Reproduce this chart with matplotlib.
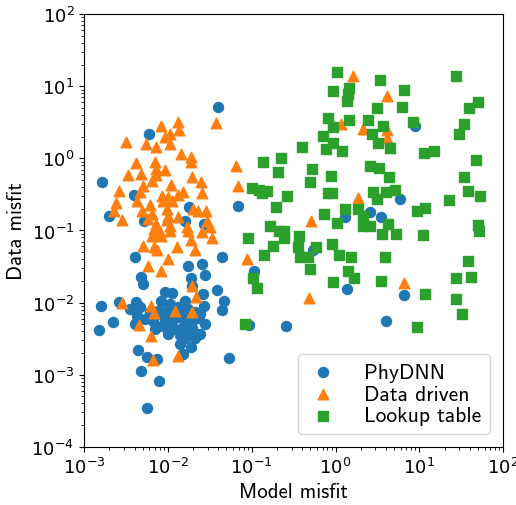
import numpy as np
import matplotlib
matplotlib.use("Agg")
import matplotlib.pyplot as plt

plt.rcParams['mathtext.fontset'] = 'cm'

# PhyDNN (model misfit, data misfit)
phydnn_x = [0.040, 0.0060, 0.00164, 0.0039, 0.0020, 0.0052, 0.016, 0.018, 0.027, 0.069,
            0.0041, 0.044, 0.0174, 0.0256, 0.028, 0.0048, 0.0051, 0.019, 0.0195, 0.039,
            0.0093, 0.0112, 0.026, 0.047, 0.0016, 0.0026, 0.0042, 0.0047, 0.0083, 0.016,
            0.027, 0.044, 0.0022, 0.0015, 0.0041, 0.0043, 0.0076, 0.0093, 0.0112, 0.0132,
            0.016, 0.0195, 0.023, 0.010, 0.0122, 0.0152, 0.0195, 0.024, 0.014, 0.014,
            0.019, 0.0044, 0.0056, 0.0074, 0.0152, 0.054, 0.0048, 0.0079, 0.0056, 0.0085,
            0.0067, 0.0174, 0.0115, 1.3, 2.6, 0.54, 0.107, 1.37, 0.093, 0.26,
            8.9, 5.9, 3.5, 6.6, 4.0,
            0.0106, 0.0132, 0.0211, 0.0081, 0.0061, 0.010, 0.016, 0.021, 0.0122, 0.0148,
            0.0095, 0.0184, 0.0070, 0.0242, 0.028, 0.0053, 0.0035]
phydnn_y = [5.2, 2.2, 0.47, 0.31, 0.16, 0.136, 0.136, 0.21, 0.123, 0.22,
            0.043, 0.043, 0.032, 0.034, 0.024, 0.023, 0.018, 0.022, 0.017, 0.015,
            0.014, 0.0137, 0.0132, 0.0106, 0.0090, 0.0103, 0.0103, 0.0087, 0.0106, 0.0106,
            0.0090, 0.0079, 0.0054, 0.0042, 0.0051, 0.0066, 0.0077, 0.0060, 0.0056, 0.0064,
            0.0060, 0.0056, 0.0062, 0.0046, 0.0043, 0.0046, 0.0045, 0.0037, 0.0035, 0.0027,
            0.0024, 0.0022, 0.00177, 0.00167, 0.00195, 0.00172, 0.00114, 0.00083, 0.00035, 0.0048,
            0.0056, 0.0082, 0.0075, 0.154, 0.18, 0.054, 0.027, 0.0155, 0.0049, 0.0048,
            2.8, 0.27, 0.154, 0.0128, 0.0056,
            0.0096, 0.0087, 0.0075, 0.0070, 0.0075, 0.0037, 0.0032, 0.0032, 0.0070, 0.0077,
            0.0077, 0.0039, 0.0043, 0.0070, 0.0051, 0.0060, 0.0082]

# Data driven
driven_x = [0.0083, 0.0132, 0.0136, 0.0106, 0.0093, 0.0106, 0.0032, 0.0055, 0.0072, 0.0144,
            0.0189, 0.0189, 0.0042, 0.0070, 0.0072, 0.0093, 0.0048, 0.0033, 0.0072, 0.0195,
            0.0065, 0.0249, 0.0109, 0.0051, 0.0026, 0.0256, 0.0152, 0.0047, 0.0085, 0.010,
            0.0132, 0.0043, 0.0088, 0.0112, 0.0024, 0.0061, 0.0098, 0.020, 0.023, 0.0286,
            0.0023, 0.0049, 0.0065, 0.010, 0.0132, 0.0028, 0.0058, 0.0098, 0.0294, 0.0072,
            0.0106, 0.0169, 0.0319, 0.0068, 0.0081, 0.0106, 0.0174, 0.0256, 0.0065, 0.0083,
            0.0189, 0.0337, 0.0051, 0.0068, 0.0129, 0.0074, 0.0211, 0.010, 0.0058, 0.0083,
            0.088, 0.0195, 0.0217, 0.0028, 0.0063, 0.0068, 0.0122, 0.0195, 0.0045, 0.0063,
            0.0132, 0.0067, 0.038, 0.065, 0.069, 1.6, 1.17, 2.1, 1.86, 0.51,
            0.48, 4.1, 4.1, 4.1, 6.6]
driven_y = [2.8, 3.2, 2.5, 2.2, 2.0, 1.58, 1.69, 1.58, 1.44, 1.15,
            1.04, 0.89, 0.86, 0.89, 0.71, 0.69, 0.61, 0.59, 0.59, 0.55,
            0.49, 0.47, 0.43, 0.41, 0.35, 0.33, 0.34, 0.34, 0.30, 0.29,
            0.31, 0.257, 0.257, 0.257, 0.241, 0.226, 0.199, 0.199, 0.187, 0.187,
            0.187, 0.187, 0.170, 0.159, 0.154, 0.140, 0.145, 0.140, 0.136, 0.123,
            0.116, 0.112, 0.112, 0.105, 0.096, 0.099, 0.099, 0.096, 0.084, 0.084,
            0.074, 0.079, 0.061, 0.059, 0.059, 0.054, 0.054, 0.040, 0.032, 0.027,
            0.040, 0.017, 0.012, 0.0099, 0.0090, 0.0072, 0.0077, 0.0075, 0.0049, 0.0034,
            0.0018, 0.0016, 3.1, 0.79, 0.41, 14.0, 3.0, 2.55, 0.28, 0.136,
            0.0116, 7.3, 2.5, 1.9, 0.019]

# Lookup table
lookup_x = [3.4, 6.6, 3.1, 6.2, 2.45, 3.7, 2.7, 3.2, 4.5, 8.4,
            11.4, 15, 27.5, 50, 39, 34, 30, 48, 34, 2.6,
            3.3, 4.4, 2.8, 3.1, 4.0, 5.1, 22.7, 38, 53, 9.4,
            11.7, 4.2, 3.6, 5.3, 11.1, 50, 52, 3.9, 38, 3.5,
            27.5, 41, 11.7, 27.5, 32, 9.4, 1.04, 0.94, 1.45, 1.42,
            1.37, 0.82, 0.94, 1.45, 0.71, 0.94, 0.77, 1.20, 0.40, 0.137,
            0.224, 0.207, 0.53, 0.50, 0.885, 0.101, 0.122, 0.153, 0.133, 0.264,
            0.195, 0.82, 0.91, 1.30, 0.73, 1.04, 1.86, 2.13, 2.13, 2.6,
            0.166, 0.212, 0.244, 0.244, 0.091, 0.37, 0.18, 0.141, 0.36, 0.38,
            0.47, 0.59, 0.91, 1.10, 1.53, 0.50, 1.42, 1.67, 0.94, 0.104,
            0.116, 0.083]
lookup_y = [12.2, 8.9, 5.0, 5.2, 3.4, 2.8, 2.2, 1.63, 1.39, 3.2,
            1.19, 1.26, 13.8, 6.0, 5.0, 3.0, 2.2, 0.95, 0.55, 0.79,
            0.74, 0.55, 0.34, 0.27, 0.34, 0.365, 0.265, 0.353, 0.30, 0.187,
            0.206, 0.123, 0.090, 0.090, 0.087, 0.12, 0.099, 0.043, 0.038, 0.020,
            0.022, 0.0228, 0.0132, 0.0113, 0.0070, 0.0046, 15.7, 8.6, 9.4, 7.8,
            6.2, 3.6, 2.7, 3.4, 2.04, 1.63, 1.35, 1.26, 1.44, 0.89,
            1.01, 0.65, 0.71, 0.47, 0.57, 0.39, 0.365, 0.353, 0.33, 0.30,
            0.212, 0.33, 0.33, 0.199, 0.170, 0.127, 0.199, 0.159, 0.116, 0.116,
            0.116, 0.099, 0.099, 0.079, 0.079, 0.084, 0.061, 0.046, 0.059, 0.043,
            0.043, 0.059, 0.065, 0.046, 0.043, 0.029, 0.0276, 0.022, 0.0194, 0.022,
            0.016, 0.0051]

labels = ["PhyDNN", "Data driven", "Lookup table"]

fig = plt.figure(figsize=(5.16, 5.06), dpi=100)
ax = fig.add_axes([0.163, 0.115, 0.812, 0.855])

ax.scatter(phydnn_x, phydnn_y, s=52, marker='o', color='#1f77b4', label=labels[0])
ax.scatter(driven_x, driven_y, s=58, marker='^', color='#ff7f0e', label=labels[1])
ax.scatter(lookup_x, lookup_y, s=44, marker='s', color='#2ca02c', label=labels[2])

ax.set_xscale('log')
ax.set_yscale('log')
ax.set_xlim(1e-3, 1e2)
ax.set_ylim(1e-4, 1e2)
ax.tick_params(labelsize=13)

ax.set_xlabel("Model misfit", fontfamily='cmss10', fontsize=15)
ax.set_ylabel("Data misfit", fontfamily='cmss10', fontsize=15)

ax.legend(loc='lower right', prop={'family': 'cmss10', 'size': 15.5},
          handletextpad=1.1, borderpad=0.4, labelspacing=0.12,
          handlelength=1.6, borderaxespad=0.6)

fig.savefig("out.png", dpi=100)
